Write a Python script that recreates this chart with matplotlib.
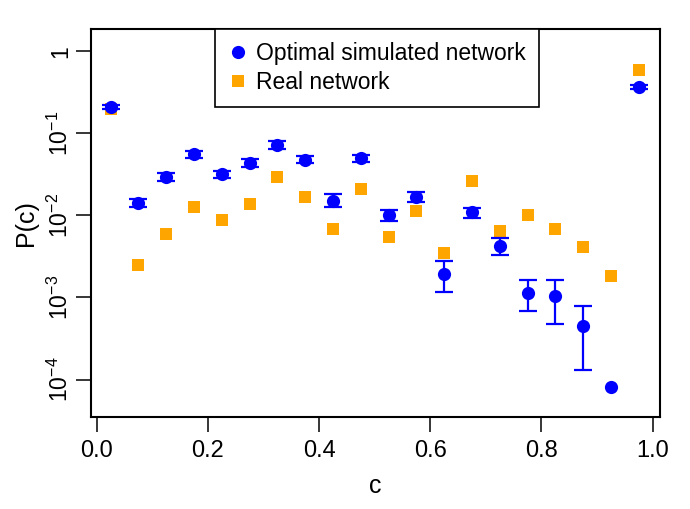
import numpy as np
import matplotlib
matplotlib.use('Agg')
import matplotlib.pyplot as plt

plt.rcParams['font.family'] = ['Liberation Sans', 'DejaVu Sans']
plt.rcParams['mathtext.fontset'] = 'custom'
plt.rcParams['mathtext.rm'] = 'Liberation Sans'
plt.rcParams['mathtext.it'] = 'Liberation Sans'

# bin centres of c
cBins = [0.025, 0.075, 0.125, 0.175, 0.225, 0.275, 0.325, 0.375, 0.425, 0.475,
         0.525, 0.575, 0.625, 0.675, 0.725, 0.775, 0.825, 0.875, 0.925, 0.975]

# optimal simulated network: P(c) and error bar bounds
simP = [0.211, 0.0140, 0.0296, 0.0554, 0.0316, 0.0438, 0.0720, 0.0473, 0.0151, 0.0496,
        0.0101, 0.0169, 0.00196, 0.0109, 0.00426, 0.00114, 0.00105, 0.000450, 0.0000812, 0.370]
simLow = [0.1995, 0.0125, 0.0264, 0.0496, 0.0283, 0.0392, 0.0644, 0.0431, 0.0127, 0.0443,
          0.00859, 0.01465, 0.00118, 0.00927, 0.00328, 0.000681, 0.000469, 0.000130, np.nan, 0.350]
simHigh = [0.2233, 0.0158, 0.0331, 0.0614, 0.0347, 0.0490, 0.0799, 0.0533, 0.0180, 0.0544,
           0.0116, 0.0194, 0.00277, 0.01217, 0.00529, 0.00163, 0.00163, 0.000790, np.nan, 0.391]

# real network
realP = [0.198, 0.00248, 0.00592, 0.0125, 0.00876, 0.0137, 0.0296, 0.0166, 0.00675, 0.0211,
         0.00548, 0.0114, 0.0035, 0.0262, 0.00649, 0.0101, 0.00675, 0.00407, 0.00183, 0.591]

xTicks = [0.0, 0.2, 0.4, 0.6, 0.8, 1.0]
xTickLabels = ['0.0', '0.2', '0.4', '0.6', '0.8', '1.0']
yTicks = [1, 1e-1, 1e-2, 1e-3, 1e-4]
yTickLabels = ['1', r'$10^{-1}$', r'$10^{-2}$', r'$10^{-3}$', r'$10^{-4}$']

x = np.array(cBins)
p = np.array(simP)
lo = np.array(simLow)
hi = np.array(simHigh)
hasErr = ~np.isnan(lo)

fig = plt.figure(figsize=(6.9, 5.09), dpi=100)
ax = fig.add_axes([90.7 / 690, 1 - 417.3 / 509, (660 - 90.7) / 690, (417.3 - 29) / 509])

ax.errorbar(x[hasErr], p[hasErr], yerr=[p[hasErr] - lo[hasErr], hi[hasErr] - p[hasErr]],
            fmt='none', ecolor='#0000FF', elinewidth=1.6, capsize=6.8, capthick=1.6, zorder=3)
ax.plot(x, p, 'o', color='#0000FF', markersize=9.5, markeredgewidth=0, zorder=4,
        label='Optimal simulated network')
ax.plot(x, realP, 's', color='#FFA500', markersize=8, markeredgewidth=0, zorder=2,
        label='Real network')

ax.set_yscale('log')
ax.set_xlim(-0.0108, 1.0133)
ax.set_ylim(10 ** -4.46, 10 ** 0.272)
ax.set_xticks(xTicks)
ax.set_xticklabels(xTickLabels)
ax.set_yticks(yTicks)
ax.set_yticklabels(yTickLabels, rotation=90, va='center')
ax.minorticks_off()
ax.tick_params(axis='both', direction='out', length=11, width=1.1)
ax.tick_params(axis='x', labelsize=17, pad=5)
ax.tick_params(axis='y', labelsize=16.5, pad=2)
for s in ax.spines.values():
    s.set_linewidth(1.5)

ax.set_xlabel('c', fontsize=18, labelpad=9)
ax.set_ylabel('P(c)', fontsize=18)
ax.yaxis.set_label_coords(-0.093, 0.5)

leg = ax.legend(loc='upper left', bbox_to_anchor=(0.2183, 1.0), fontsize=16.5, frameon=True,
                fancybox=False, edgecolor='black', framealpha=1, borderpad=0.55,
                handletextpad=0.35, handlelength=0.9, labelspacing=0.3, borderaxespad=0)
leg.get_frame().set_linewidth(1.2)

plt.savefig('out.png', dpi=100)
